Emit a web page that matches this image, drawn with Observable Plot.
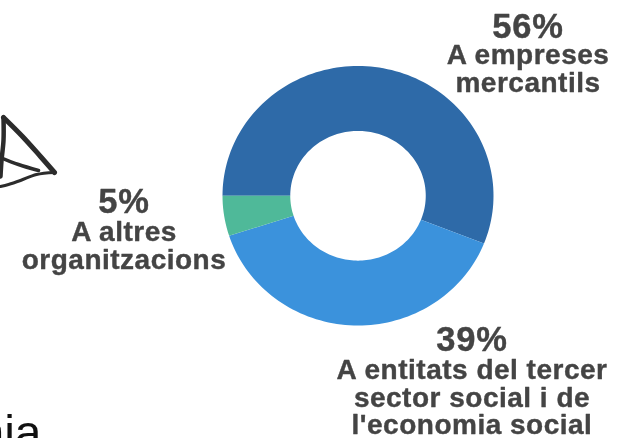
<!DOCTYPE html>
<html><head><meta charset="utf-8">
<script src="https://cdn.jsdelivr.net/npm/d3@7"></script>
<script src="https://cdn.jsdelivr.net/npm/@observablehq/plot@0.6"></script>
<style>html,body{margin:0;padding:0;background:#fff;overflow:hidden}svg{display:block;filter:blur(0.5px)}
.pct text{letter-spacing:0.8px}.desc text{letter-spacing:0.5px}</style>
</head><body>
<script>
const categories = ["A empreses mercantils", "A entitats del tercer sector social i de l'economia social", "A altres organitzacions"];
const shares = [56, 39, 5];
const percentLabels = ["56%", "39%", "5%"];
const descriptionLines = [["A empreses", "mercantils"], ["A entitats del tercer", "sector social i de", "l'economia social"], ["A altres", "organitzacions"]];
const colors = ["#2e6aa8", "#3b92dc", "#4fb999"];

const startTurn = 0.75, innerRatio = 0.5;
let cum = 0;
const rings = [];
categories.forEach((c, i) => {
  const a0 = (startTurn + cum / 100) * 2 * Math.PI;
  cum += shares[i];
  const a1 = (startTurn + cum / 100) * 2 * Math.PI;
  const n = Math.max(8, Math.ceil(shares[i] * 2));
  for (let k = 0; k <= n; k++) {
    const a = a0 + (a1 - a0) * k / n;
    rings.push({c, x: Math.sin(a), y: Math.cos(a)});
  }
  for (let k = n; k >= 0; k--) {
    const a = a0 + (a1 - a0) * k / n;
    rings.push({c, x: innerRatio * Math.sin(a), y: innerRatio * Math.cos(a)});
  }
});

// text blocks: pixel layout, separate from data
const layout = [
  {x: 527.5, pct: 37, lines: [63, 91]},
  {x: 471.5, pct: 350, lines: [378, 406, 433]},
  {x: 123.5, pct: 212, lines: [240, 268]}
];
const pctRows = percentLabels.map((t, i) => ({t, x: layout[i].x, y: layout[i].pct}));
const lineRows = descriptionLines.flatMap((ls, i) => ls.map((t, j) => ({t, x: layout[i].x, y: layout[i].lines[j]})));
const px = f => ({value: f, scale: null});

const sketch = [
  [[3,117],[22,136],[40,156],[54,172]],
  [[54,172],[36,174],[20,180],[8,184],[0,186]],
  [[0,157],[18,164],[38,170]],
  [[3,117],[3,140],[1,160],[0,176]]
];
const sketchWidths = [5, 3, 3.5, 4.5];
const sketchRows = sketch.flatMap((s, i) => s.map(p => ({i, p, w: sketchWidths[i]})));

const chart = Plot.plot({
  width: 625, height: 438, margin: 0,
  style: {background: "#fff"},
  x: {domain: [-1, 1], range: [222, 493], axis: null},
  y: {domain: [-1, 1], range: [325, 65.5], axis: null},
  color: {domain: categories, range: colors},
  marks: [
    Plot.line(rings, {x: "x", y: "y", z: "c", fill: "c", stroke: null, curve: "linear-closed"}),
    Plot.line(sketchRows, {x: px(d => d.p[0]), y: px(d => d.p[1]), z: "i", stroke: "#2c2c2c", strokeWidth: "w", curve: "catmull-rom"}),
    Plot.text(pctRows, {x: px(d => d.x), y: px(d => d.y), text: "t", className: "pct", fill: "#444", stroke: "#444", strokeWidth: 0.4, fontSize: 34.5, fontWeight: "bold", fontFamily: "Liberation Sans", lineAnchor: "bottom", textAnchor: "middle"}),
    Plot.text(lineRows, {x: px(d => d.x), y: px(d => d.y), text: "t", className: "desc", fill: "#444", stroke: "#444", strokeWidth: 0.4, fontSize: 28, fontWeight: "bold", fontFamily: "Liberation Sans", lineAnchor: "bottom", textAnchor: "middle"}),
    Plot.text(["nia"], {x: px(() => 41), y: px(() => 448), text: d => d, fill: "#111", fontSize: 48, fontFamily: "Liberation Sans", lineAnchor: "bottom", textAnchor: "end"})
  ]
});
document.body.appendChild(chart);
</script>
</body></html>
